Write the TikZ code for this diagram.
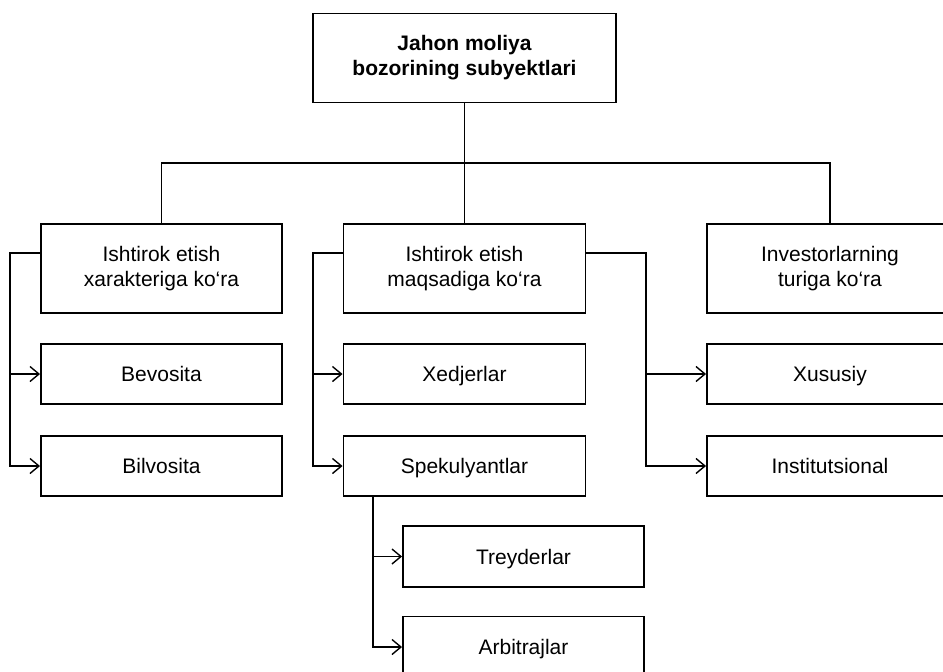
\documentclass[tikz,border=0pt]{standalone}
\usepackage{fontspec}
\setmainfont{Liberation Sans}
\usetikzlibrary{arrows.meta}
\begin{document}
\begin{tikzpicture}[x=1pt,y=-1pt,
  box/.style={draw,line width=1.9pt,minimum height=60pt,inner sep=0pt,align=center,
    font=\fontsize{21}{25}\selectfont},
  subbox/.style={box,text height=16pt,text depth=1pt},
  conn/.style={line width=1.7pt},
  arr/.style={conn,-{Straight Barb[length=9pt,width=15pt,line width=1.4pt]}}]
\useasboundingbox (0,0) rectangle (943,672);
\clip (0,0) rectangle (943,672);
\fill[white] (0,0) rectangle (943,672);
% main boxes
\node[box,minimum width=303pt,minimum height=89pt,font=\fontsize{21}{25}\selectfont\bfseries] (top) at (464.5,58) {Jahon moliya\\bozorining subyektlari};
\node[box,minimum width=241pt,minimum height=89pt] (b1) at (161.5,268.5) {Ishtirok etish\\xarakteriga ko‘ra};
\node[box,minimum width=242pt,minimum height=89pt] (b2) at (464.5,268.5) {Ishtirok etish\\maqsadiga ko‘ra};
\node[box,minimum width=246pt,minimum height=89pt] (b3) at (830,268.5) {Investorlarning\\turiga ko‘ra};
% sub boxes
\node[subbox,minimum width=241pt] (bev) at (161.5,374) {Bevosita};
\node[subbox,minimum width=241pt] (bil) at (161.5,466) {Bilvosita};
\node[subbox,minimum width=242pt] (xed) at (464.5,374) {Xedjerlar};
\node[subbox,minimum width=242pt] (spek) at (464.5,466) {Spekulyantlar};
\node[subbox,minimum width=246pt] (xus) at (830,374) {Xususiy};
\node[subbox,minimum width=246pt] (ins) at (830,466) {Institutsional};
\node[subbox,minimum width=241pt,minimum height=61pt] (trey) at (523.5,556.5) {Treyderlar};
\node[subbox,minimum width=241pt,minimum height=61pt] (arb) at (523.5,647) {Arbitrajlar};
% coordinates
\coordinate (hl) at (162,163);
\coordinate (r1) at (10,253);
\coordinate (r2) at (313,253);
\coordinate (r3) at (646,253);
\coordinate (r4) at (373,496);
% top connectors
\draw[conn] (top.south) -- (b2.north);
\draw[conn] (b1.north) -- (b1.north |- hl) -- (b3.north |- hl) -- (b3.north);
% group 1
\draw[arr] (b1.west |- r1) -- (r1) |- (bil.west);
\draw[arr] (r1 |- bev.west) -- (bev.west);
% group 2
\draw[arr] (b2.west |- r2) -- (r2) |- (spek.west);
\draw[arr] (r2 |- xed.west) -- (xed.west);
% group 3
\draw[arr] (b2.east |- r3) -- (r3) |- (ins.west);
\draw[arr] (r3 |- xus.west) -- (xus.west);
% spekulyantlar
\draw[arr] (r4) |- (arb.west);
\draw[arr] (r4 |- trey.west) -- (trey.west);
\end{tikzpicture}
\end{document}
